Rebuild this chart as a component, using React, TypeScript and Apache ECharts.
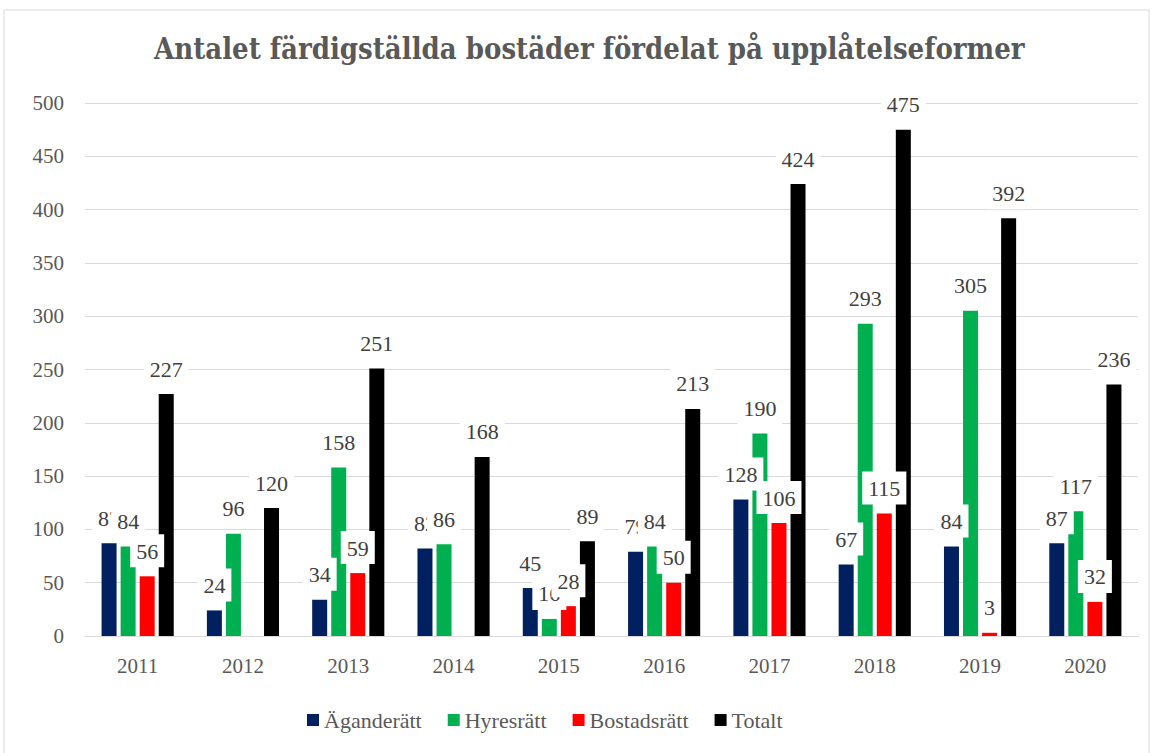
import React, { useEffect, useRef } from "react";
import * as echarts from "echarts";

const years = ["2011", "2012", "2013", "2014", "2015", "2016", "2017", "2018", "2019", "2020"];
const agande = [87, 24, 34, 82, 45, 79, 128, 67, 84, 87];
const hyres = [84, 96, 158, 86, 16, 84, 190, 293, 305, 117];
const bostads = [56, null, 59, null, 28, 50, 106, 115, 3, 32];
const totalt = [227, 120, 251, 168, 89, 213, 424, 475, 392, 236];

const SERIF = "Liberation Serif";

export default function App() {
  const ref = useRef<HTMLDivElement>(null);
  useEffect(() => {
    const chart = echarts.init(ref.current!, null, { renderer: "svg" });
    const label = {
      show: true,
      position: "top" as const,
      distance: 9,
      fontFamily: SERIF,
      fontSize: 22,
      color: "#404040",
      backgroundColor: "#ffffff",
      padding: [6, 6, 5, 6],
    };
    const mk = (name: string, data: any[], color: string) => ({
      name,
      type: "bar",
      data,
      barWidth: 15,
      barGap: "27%",
      itemStyle: { color },
      label,
    });
    chart.setOption({
      animation: false,
      textStyle: { fontFamily: SERIF },
      title: {
        text: "Antalet färdigställda bostäder fördelat på upplåtelseformer",
        left: 149,
        top: 29,
        textStyle: { fontFamily: "DejaVu Serif Condensed", fontWeight: "bold", fontSize: 29, color: "#595959" },
      },
      graphic: [
        {
          type: "rect",
          shape: { x: 4, y: 10, width: 1145, height: 760 },
          style: { fill: "none", stroke: "#d9d9d9", lineWidth: 1 },
          silent: true,
        },
      ],
      legend: {
        bottom: 17,
        left: 302,
        itemWidth: 12,
        itemHeight: 12,
        itemGap: 26,
        icon: "rect",
        textStyle: { fontFamily: SERIF, fontSize: 22, color: "#595959" },
      },
      grid: { left: 85, right: 15, top: 103, bottom: 117, containLabel: false },
      xAxis: {
        type: "category",
        data: years,
        axisLine: { lineStyle: { color: "#d9d9d9", width: 1 } },
        axisTick: { show: false },
        axisLabel: { fontFamily: SERIF, fontSize: 21, color: "#595959", margin: 19 },
      },
      yAxis: {
        type: "value",
        min: 0,
        max: 500,
        interval: 50,
        axisLine: { show: false },
        axisTick: { show: false },
        splitLine: { lineStyle: { color: "#d9d9d9", width: 1 } },
        axisLabel: { fontFamily: SERIF, fontSize: 21, color: "#595959", margin: 21 },
      },
      series: [
        mk("Äganderätt", agande, "#002060"),
        mk("Hyresrätt", hyres, "#00b050"),
        mk("Bostadsrätt", bostads, "#ff0000"),
        mk("Totalt", totalt, "#000000"),
      ],
    });
    return () => chart.dispose();
  }, []);
  return (
    <div
      ref={ref}
      style={{ position: "absolute", left: 0, top: 0, width: 1153, height: 753, background: "#fff" }}
    />
  );
}
